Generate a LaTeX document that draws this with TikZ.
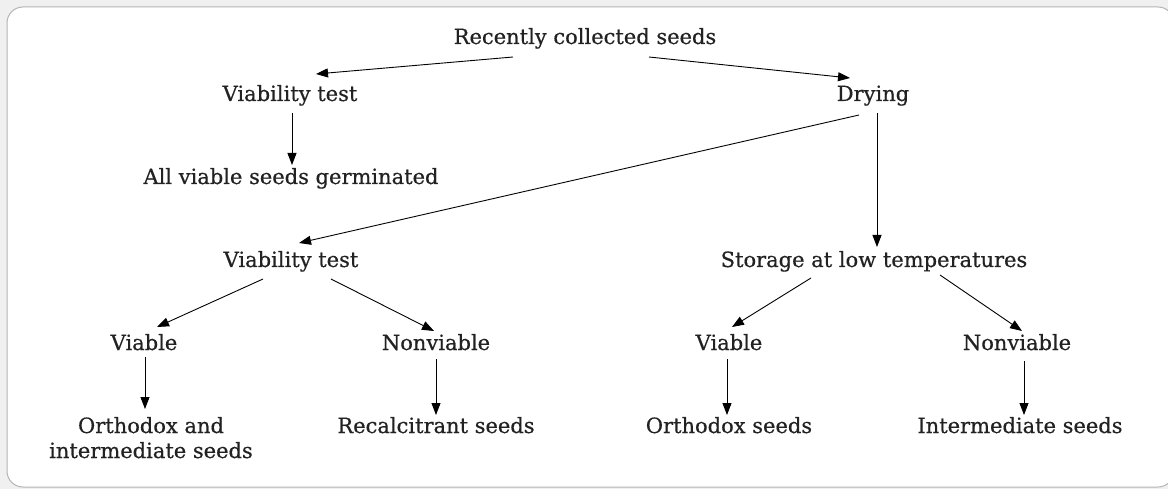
\documentclass[tikz,border=0pt]{standalone}
\usepackage{fontspec}
\setmainfont{DejaVu Serif}[FakeBold=0.5]
\usepackage{tikz}
\usetikzlibrary{arrows.meta}
\definecolor{pagegray}{HTML}{F0F0F0}
\definecolor{framegray}{HTML}{B4B4B4}
\definecolor{ink}{HTML}{222222}
\tikzset{
>={Triangle[length=12pt,width=9pt]},
ink,
text=ink,
lbl/.style={%
    anchor=base,
    inner sep=0pt,
    align=center,
    % Font
    font=\fontsize{21}{25}\selectfont
},
link/.style={->, line width=0.9pt},
}

\begin{document}
\begin{tikzpicture}[x=1pt, y=-1pt]
	\useasboundingbox (0,0) rectangle (1168,489);
	\fill[pagegray] (0,0) rectangle (1168,489);
	\draw[framegray, fill=white, line width=1pt, rounded corners=16pt] (7,7) rectangle (1174,487);

	\node[lbl] (collected) at (585,44) {Recently collected seeds};
	\node[lbl] (test1) at (290,101) {Viability test};
	\node[lbl] (drying) at (873,101) {Drying};
	\node[lbl] (germ) at (291,184) {All viable seeds germinated};
	\node[lbl] (test2) at (291,267) {Viability test};
	\node[lbl] (storage) at (874,267) {Storage at low temperatures};
	\node[lbl] (viable1) at (144,350) {Viable};
	\node[lbl] (nonviable1) at (436,350) {Nonviable};
	\node[lbl] (viable2) at (729,350) {Viable};
	\node[lbl] (nonviable2) at (1017,350) {Nonviable};
	\node[lbl] (orthint) at (151,458) {Orthodox and\\intermediate seeds};
	\node[lbl] (recalc) at (436,433) {Recalcitrant seeds};
	\node[lbl] (ortho) at (729,433) {Orthodox seeds};
	\node[lbl] (inter) at (1020,433) {Intermediate seeds};

	\draw[link] ([shift={(-72,13)}]collected.base) -- ([shift={(26,-27)}]test1.base);
	\draw[link] ([shift={(64,13)}]collected.base) -- ([shift={(-23,-23)}]drying.base);
	\draw[link] ([shift={(2,12)}]test1.base) -- ([shift={(2,64)}]test1.base);
	\draw[link] ([shift={(-14,14)}]drying.base) -- ([shift={(8,-24)}]test2.base);
	\draw[link] ([shift={(4,12)}]drying.base) -- ([shift={(3,-20)}]storage.base);
	\draw[link] ([shift={(-28,12)}]test2.base) -- ([shift={(13,-23)}]viable1.base);
	\draw[link] ([shift={(40,12)}]test2.base) -- ([shift={(-2,-19)}]nonviable1.base);
	\draw[link] ([shift={(1,7)}]viable1.base) -- ([shift={(1,59)}]viable1.base);
	\draw[link] ([shift={(0,9)}]nonviable1.base) -- ([shift={(0,65)}]nonviable1.base);
	\draw[link] ([shift={(-63,11)}]storage.base) -- ([shift={(3,-23)}]viable2.base);
	\draw[link] ([shift={(66,8)}]storage.base) -- ([shift={(5,-19)}]nonviable2.base);
	\draw[link] ([shift={(-2,9)}]viable2.base) -- ([shift={(-2,65)}]viable2.base);
	\draw[link] ([shift={(7,11)}]nonviable2.base) -- ([shift={(7,65)}]nonviable2.base);
\end{tikzpicture}
\end{document}
